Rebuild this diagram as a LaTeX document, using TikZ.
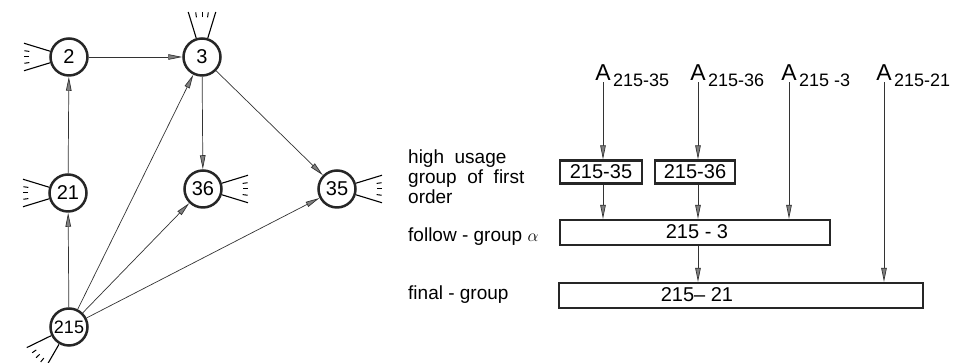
\documentclass[tikz,border=0pt]{standalone}
\usepackage{fontspec}
\setmainfont{Liberation Sans}
\usepackage{tikz}
\usetikzlibrary{arrows.meta,calc,positioning}

\begin{document}
\begin{tikzpicture}[x=1pt,y=1pt,
  vert/.style={circle,draw=black!85,line width=2.5pt,minimum size=37pt,inner sep=0pt,font=\fontsize{20}{20}\selectfont},
  link/.style={draw=black!80,line width=0.7pt,-{Triangle[length=14pt,width=5.5pt,fill=black!50]}},
  stub/.style={line width=1.1pt},
  tick/.style={line width=1pt},
  grp/.style={draw=black!85,line width=2.2pt,inner sep=0pt,minimum height=23pt,font=\fontsize{20}{20}\selectfont},
  gtxt/.style={inner sep=0pt,font=\fontsize{20}{20}\selectfont},
  alab/.style={anchor=base,inner sep=1pt,font=\fontsize{23}{23}\selectfont},
  asub/.style={anchor=base west,inner sep=0pt,font=\fontsize{18}{18}\selectfont},
  txt/.style={anchor=west,inner sep=0pt,align=left,font=\fontsize{19}{20}\selectfont}]
\useasboundingbox (0,0) rectangle (975,363);
% graph of groups
\node[vert] (n2) at (69,306) {2}; \node[vert] (n3) at (202,306) {3};
\node[vert] (n21) at (68,170) {21}; \node[vert] (n36) at (203,174) {36}; \node[vert] (n35) at (337,174) {35};
\node[vert,font=\fontsize{18}{18}\selectfont] (n215) at (69,36) {215};
\foreach \n/\d in {n2/180,n3/90,n21/180,n36/0,n35/0,n215/223}{
  \foreach \s in {-17,17} \draw[stub] ($(\n)+({\d+\s}:20)$)--($(\n)+({\d+\s}:47)$);
  \foreach \s in {-8,0,8} \draw[tick] ($(\n)+({\d+\s}:40)$)--($(\n)+({\d+\s}:45)$);
}
\draw[link] (n2)--(n3); \draw[link] (n21)--(n2); \draw[link] (n215)--(n21);
\draw[link] (n215)--(n3); \draw[link] (n215)--(n36); \draw[link] (n215)--(n35);
\draw[link] (n3)--(n36); \draw[link] (n3)--(n35);
% access paths
\node[alab] (a35) at (603,282) {A}; \node[asub] (s35) at ($(a35.base east)+(1,-6)$) {215-35};
\node[alab] (a36) at (698,282) {A}; \node[asub] (s36) at ($(a36.base east)+(1,-6)$) {215-36};
\node[alab] (a3) at (789,282) {A}; \node[asub] (s3) at ($(a3.base east)+(1,-6)$) {215 -3};
\node[alab] (a21) at (884,282) {A}; \node[asub] (s21) at ($(a21.base east)+(1,-6)$) {215-21};
\node[grp,minimum width=82pt] (b35) at (601,191) {215-35};
\node[grp,minimum width=80pt] (b36) at (695,191) {215-36};
\node[grp,minimum width=270pt,minimum height=25pt] (fol) at (695,130.5) {}; \node[gtxt] (t3) at (697,131) {215 - 3};
\node[grp,minimum width=364pt,minimum height=25pt] (fin) at (741,67.5) {}; \node[gtxt] (t21) at (697,68) {215– 21};
\draw[link] (a35.south)--(a35.south |- b35.north); \draw[link] (a35.south |- b35.south)--(a35.south |- fol.north);
\draw[link] (a36.south)--(a36.south |- b36.north); \draw[link] (a36.south |- b36.south)--(a36.south |- fol.north);
\draw[link] (a3.south)--(a3.south |- fol.north);
\draw[link] (a36.south |- fol.south)--(a36.south |- fin.north);
\draw[link] (a21.south)--(a21.south |- fin.north);
\node[txt] (lhigh) at (408,186) {high\ \ usage\\group\ \ of\ \ first\\order};
\node[txt] (lfol) at (408,126) {follow - group $\alpha$};
\node[txt] (lfin) at (408,68) {final - group};
\end{tikzpicture}
\end{document}
